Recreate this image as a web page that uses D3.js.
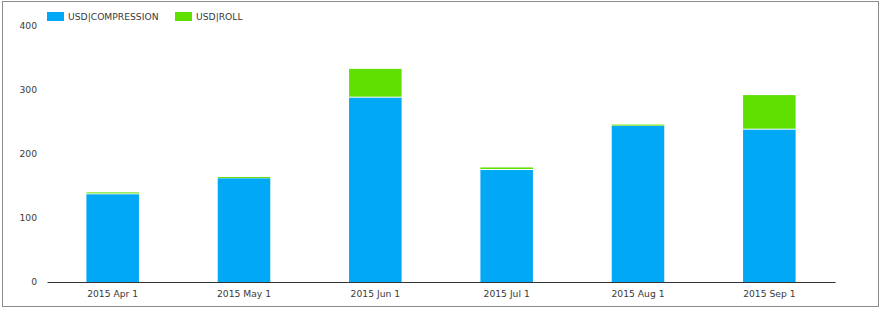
<!DOCTYPE html>
<html>
<head>
<meta charset="utf-8">
<script src="https://cdn.jsdelivr.net/npm/d3@7"></script>
<style>
  body { margin: 0; background: #fff; }
  text { font-family: "DejaVu Sans", Verdana, sans-serif; font-size: 9.2px; fill: #3a3a3a; }
</style>
</head>
<body>
<div id="app"></div>
<script>
const months = ['2015 Apr 1', '2015 May 1', '2015 Jun 1', '2015 Jul 1', '2015 Aug 1', '2015 Sep 1']
const seriesNames = ['USD|COMPRESSION', 'USD|ROLL']
const compression = [137, 162, 288, 175, 244, 238]
const roll = [3, 2, 45, 4, 2, 54]
const yTicks = [0, 100, 200, 300, 400]
const colors = ['#00a8f5', '#5fe000']

const W = 884, H = 312
const svg = d3.select('#app').append('svg').attr('width', W).attr('height', H)

svg.append('rect').attr('x', 2.5).attr('y', 1.5).attr('width', 876).attr('height', 305)
  .attr('fill', '#fff').attr('stroke', '#8c8c8c').attr('stroke-width', 1)

const table = months.map((m, i) => ({ month: m, [seriesNames[0]]: compression[i], [seriesNames[1]]: roll[i] }))
const stacked = d3.stack().keys(seriesNames)(table)

const x = d3.scaleBand().domain(months).range([47, 835]).paddingInner(0.6).paddingOuter(0.3)
const y = d3.scaleLinear().domain([0, 400]).range([282, 26])
const color = d3.scaleOrdinal().domain(seriesNames).range(colors)

// 1px white gap between stacked segments
svg.append('g').selectAll('g').data(stacked).enter().append('g')
  .attr('fill', d => color(d.key))
  .selectAll('rect').data(d => d).enter().append('rect')
  .attr('x', d => x(d.data.month))
  .attr('width', x.bandwidth())
  .attr('y', d => y(d[1]))
  .attr('height', d => Math.max(1, y(d[0]) - y(d[1]) - (d[0] > 0 ? 1 : 0)))

// y labels, no axis line
svg.append('g').selectAll('text').data(yTicks).enter().append('text')
  .attr('x', 37).attr('y', d => y(d)).attr('dy', '0.35em')
  .attr('text-anchor', 'end').text(d => d)

const xAxis = svg.append('g').attr('transform', 'translate(0,282)')
  .call(d3.axisBottom(x).tickSize(0).tickPadding(8))
xAxis.select('.domain').attr('stroke', '#333').attr('stroke-width', 1.2)
xAxis.selectAll('text').style('font-family', '"DejaVu Sans", Verdana, sans-serif').style('font-size', '9.2px').attr('fill', '#3a3a3a')

// legend
const legX = [47, 175]
const leg = svg.append('g').selectAll('g').data(seriesNames).enter().append('g')
  .attr('transform', (d, i) => `translate(${legX[i]},12)`)
leg.append('rect').attr('width', 17).attr('height', 9).attr('fill', d => color(d))
leg.append('text').attr('x', 21).attr('y', 8).text(d => d)
</script>
</body>
</html>
